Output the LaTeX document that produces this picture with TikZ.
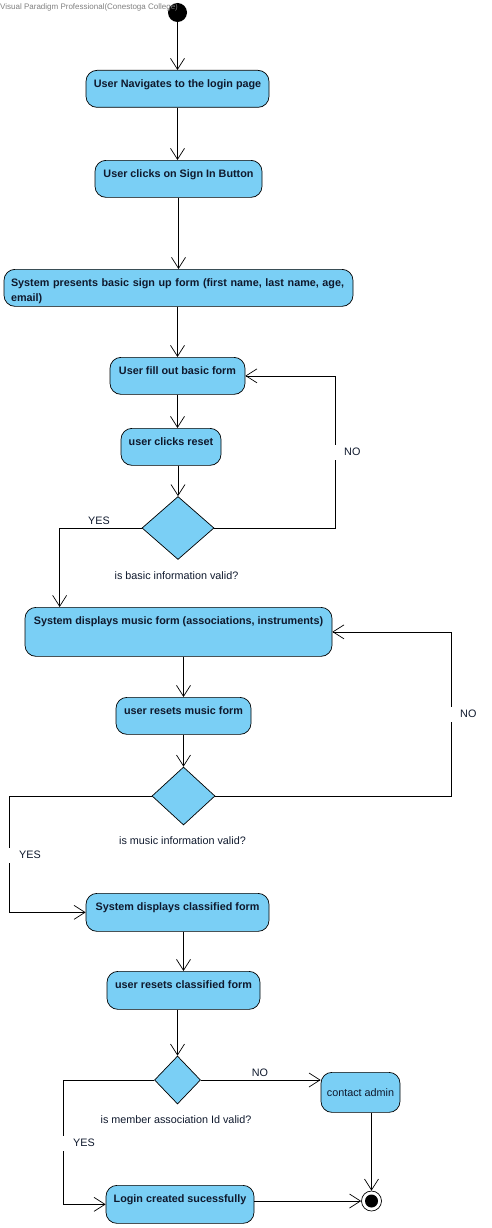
\documentclass[tikz,border=0pt]{standalone}
\usepackage{fontspec}
\setmainfont{Liberation Sans}
\usetikzlibrary{shapes.geometric,arrows.meta}
\definecolor{actfill}{RGB}{122,207,245}
\definecolor{acttext}{RGB}{15,25,45}
\begin{document}
\begin{tikzpicture}[x=1pt,y=-1pt,
  act/.style={draw=black, line width=0.7pt, fill=actfill, rounded corners=11pt,
    font=\fontsize{10.8}{15}\selectfont\bfseries, text=acttext,
    inner xsep=3pt, inner ysep=0pt, align=center, text height=17pt, anchor=north},
  dec/.style={diamond, draw=black, line width=0.7pt, fill=actfill, inner sep=0pt},
  lbl/.style={font=\fontsize{10.8}{13}\selectfont, text=acttext, inner sep=1pt},
  gaplbl/.style={lbl, fill=white, anchor=west, minimum height=15pt, inner sep=0pt},
  arr/.style={draw=black, line width=0.7pt, -{Straight Barb[length=11pt,width=14pt,line width=0.7pt]}}
]
\useasboundingbox (0,0) rectangle (492,1228);

% start / end
\node[circle, fill=black, minimum size=19pt, inner sep=0pt] (init) at (177.5,12.5) {};
\node[circle, draw=black, fill=white, line width=0.7pt, minimum size=20pt, inner sep=0pt] (fin) at (371.5,1201) {};
\fill[black] (fin.center) circle (6.5pt);

% activities
\node[act, minimum width=183pt, text depth=20pt] (A1) at (177.5,70) {User Navigates to the login page};
\node[act, minimum width=167pt, text depth=20pt] (A2) at (178.5,160) {User clicks on Sign In Button};
\node[act, minimum width=349pt, text width=335pt, inner xsep=7pt, align=left, text depth=20pt] (A3) at (178.5,269)
  {System presents basic sign up form (first name, last name, age,\\ email)};
\node[act, minimum width=135pt, text depth=20pt] (A4) at (177.5,357) {User fill out basic form};
\node[act, minimum width=100pt, text depth=20pt] (A5) at (171,428) {user clicks reset};
\node[act, minimum width=307pt, text depth=32pt] (A6) at (178.5,607) {System displays music form (associations, instruments)};
\node[act, minimum width=135pt, text depth=20pt] (A7) at (183.5,697) {user resets music form};
\node[act, minimum width=183pt, text depth=21pt] (A8) at (177.5,893) {System displays classified form};
\node[act, minimum width=153pt, text depth=21pt] (A9) at (183.5,971) {user resets classified form};
\node[act, minimum width=148pt, text depth=21pt] (A10) at (180,1185) {Login created sucessfully};
\node[act, minimum width=79pt, text height=24pt, text depth=16pt, font=\fontsize{10.8}{13}\selectfont] (CA) at (360.5,1072) {contact admin};

% decisions
\node[dec, minimum width=72pt, minimum height=63pt] (D1) at (178,528) {};
\node[dec, minimum width=63pt, minimum height=58pt] (D2) at (183.5,796) {};
\node[dec, minimum width=46pt, minimum height=48pt] (D3) at (177.5,1080) {};

% connectors
\draw[arr] (init.south) -- (init.south |- A1.north);
\draw[arr] (A1.south) -- (A1.south |- A2.north);
\draw[arr] (A2.south) -- (A2.south |- A3.north);
\draw[arr] (A4.north |- A3.south) -- (A4.north);
\draw[arr] (A4.south) -- (A4.south |- A5.north);
\draw[arr] (D1.north |- A5.south) -- (D1.north);
\draw[arr] (D1.west) -| ([xshift=35pt]A6.north west);
\draw[arr] (D1.east) -| ([xshift=90pt]A4.east) -- (A4.east);
\draw[arr] (A7.north |- A6.south) -- (A7.north);
\draw[arr] (A7.south) -- (D2.north);
\draw[arr] (D2.east) -| ([xshift=119pt]A6.east) -- (A6.east);
\draw[arr] (D2.west) -| ([xshift=-76pt]A8.west) -- (A8.west);
\draw[arr] (A9.north |- A8.south) -- (A9.north);
\draw[arr] (D3.north |- A9.south) -- (D3.north);
\draw[arr] (D3.east) -- (D3.east -| CA.west);
\draw[arr] (D3.west) -| ([xshift=-42pt]A10.west) -- (A10.west);
\draw[arr] (fin.north |- CA.south) -- (fin.north);
\draw[arr] (A10.east |- fin.west) -- (fin.west);

% labels
\node[lbl] (q1) at (176.5,576) {is basic information valid?};
\node[lbl] (q2) at (182.5,841) {is music information valid?};
\node[lbl] (q3) at (176,1120) {is member association Id valid?};
\node[lbl] (yes1) at (99,521) {YES};
\node[gaplbl] (no1) at (333,452) {\hspace{11pt}NO};
\node[gaplbl] (no2) at (449,714) {\hspace{11pt}NO};
\node[gaplbl] (yes2) at (8,855) {\hspace{11pt}YES};
\node[gaplbl] (yes3) at (62,1143) {\hspace{11pt}YES};
\node[lbl] (no3) at (260,1073) {NO};

% watermark
\node[anchor=base west, font=\fontsize{8}{9.5}\selectfont, text=gray, inner sep=0pt] (wm) at (0,10) {Visual Paradigm Professional(Conestoga College)};
\end{tikzpicture}
\end{document}
